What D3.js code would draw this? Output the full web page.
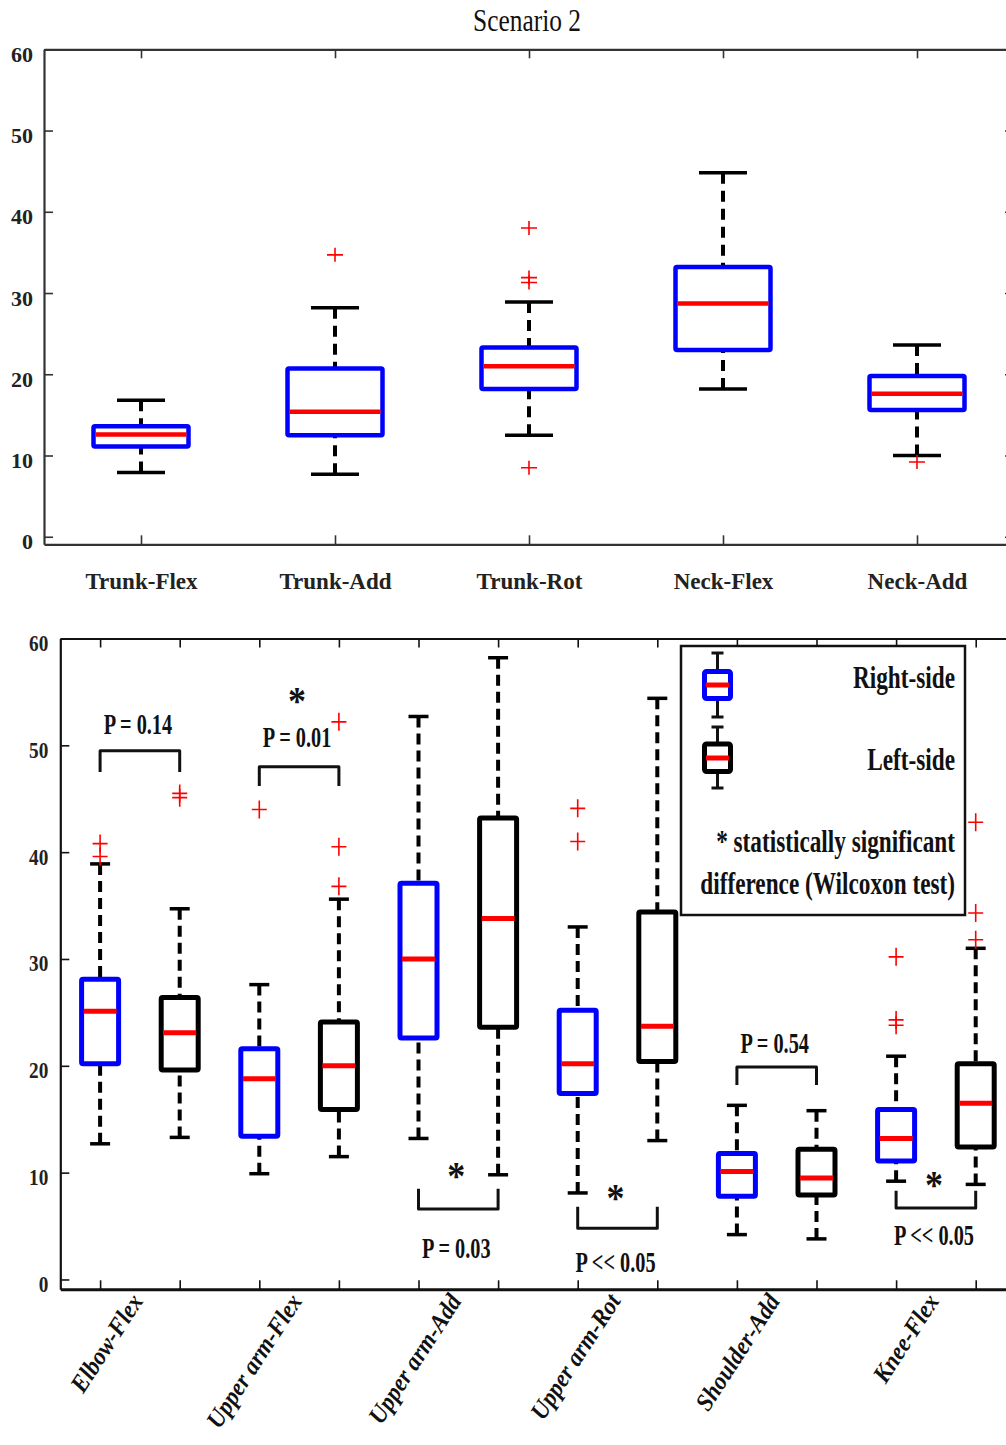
<!DOCTYPE html>
<html>
<head>
<meta charset="utf-8">
<script src="https://cdn.jsdelivr.net/npm/d3@7"></script>
<style>
body{margin:0;background:#fff}
svg{display:block}
</style>
</head>
<body>
<svg id="chart"></svg>
<script>
// values (degrees)

// top panel: trunk and neck
var topCats = ["Trunk-Flex","Trunk-Add","Trunk-Rot","Neck-Flex","Neck-Add"];
var topLow  = [7.9, 7.7, 12.5, 18.2, 10.0];
var topQ1   = [11.1, 12.5, 18.2, 23.0, 15.6];
var topMed  = [12.6, 15.4, 21.0, 28.7, 17.6];
var topQ3   = [13.6, 20.7, 23.3, 33.2, 19.8];
var topHigh = [16.8, 28.2, 28.9, 44.8, 23.6];
var topOut  = [[], [34.7], [38.0, 31.9, 31.3, 8.5], [], [9.2]];

// bottom panel: right-side (blue) and left-side (black)
var botCats = ["Elbow-Flex","Upper arm-Flex","Upper arm-Add","Upper arm-Rot","Shoulder-Add","Knee-Flex"];
var rLow  = [12.7, 9.9, 13.2, 8.1, 4.2, 9.2];
var rQ1   = [20.2, 13.4, 22.6, 17.4, 7.8, 11.1];
var rMed  = [25.1, 18.8, 30.0, 20.2, 10.1, 13.2];
var rQ3   = [28.1, 21.6, 37.1, 25.2, 11.8, 15.9];
var rHigh = [38.9, 27.6, 52.7, 33.0, 16.3, 20.9];
var rOut  = [[40.8, 39.6], [44.0], [], [44.1, 41.0], [], [30.2, 24.3, 23.8]];

var lLow  = [13.3, 11.5, 9.8, 13.0, 3.8, 8.9];
var lQ1   = [19.6, 15.9, 23.6, 20.4, 7.9, 12.4];
var lMed  = [23.1, 20.0, 33.8, 23.7, 9.5, 16.5];
var lQ3   = [26.4, 24.1, 43.2, 34.4, 12.2, 20.2];
var lHigh = [34.7, 35.6, 58.2, 54.4, 15.8, 31.0];
var lOut  = [[45.5, 45.1], [52.2, 40.5, 36.8], [], [], [], [42.8, 34.3, 31.8]];

// Wilcoxon test annotations (bracket levels in degrees)
var pLabels  = ["P = 0.14","P = 0.01","P = 0.03","P << 0.05","P = 0.54","P << 0.05"];
var pSig     = [false, true, true, true, false, true];
var pBarY    = [49.5, 48.0, 6.6, 4.8, 19.9, 6.7];
var pLegY    = [47.5, 46.2, 8.5, 6.8, 18.2, 8.3];
var pTextY   = [51.1, 49.85, 2.0, 0.74, 21.2, 3.24];
var pStarY   = [0, 54.7, 10.25, 8.2, 0, 9.4];

var yTicks = [0,10,20,30,40,50,60];

var W = 1006, H = 1445;
var serif = "'Liberation Serif','Times New Roman',serif";

var svg = d3.select("#chart").attr("width",W).attr("height",H);

//condensed text, the figure was stretched vertically
var condText = function(g,x,y,str,size,sx,anchor,weight,style)
{
    return g.append("text")
        .attr("transform","translate("+x+","+y+") scale("+sx+",1)")
        .attr("text-anchor",anchor||"middle")
        .style("font-family",serif)
        .style("font-size",size+"px")
        .style("font-weight",weight||"bold")
        .style("font-style",style||"normal")
        .attr("fill","#111")
        .text(str);
}

var plus = function(g,x,y,hw,hh)
{
    g.append("path")
        .attr("d","M"+(x-hw)+","+y+"H"+(x+hw)+"M"+x+","+(y-hh)+"V"+(y+hh))
        .attr("stroke","#ff0000")
        .attr("stroke-width",1.6)
        .attr("fill","none");
}

//one box: whiskers, caps, box, median, outliers
var drawBox = function(g,x,yScale,s,o)
{
    [[s.high,s.q3],[s.low,s.q1]].forEach(function(w)
    {
        g.append("line")
            .attr("x1",x).attr("x2",x)
            .attr("y1",yScale(w[0])).attr("y2",yScale(w[1]))
            .attr("stroke","#000")
            .attr("stroke-width",o.wsw)
            .attr("stroke-dasharray",o.dash);
        g.append("line")
            .attr("x1",x-o.cap).attr("x2",x+o.cap)
            .attr("y1",yScale(w[0])).attr("y2",yScale(w[0]))
            .attr("stroke","#000")
            .attr("stroke-width",o.csw);
    });
    g.append("rect")
        .attr("x",x-o.half)
        .attr("y",yScale(s.q3))
        .attr("width",o.half*2)
        .attr("height",yScale(s.q1)-yScale(s.q3))
        .attr("rx",1.5)
        .attr("fill","#fff")
        .attr("stroke",o.color)
        .attr("stroke-width",o.bsw);
    g.append("line")
        .attr("x1",x-o.half+2).attr("x2",x+o.half-2)
        .attr("y1",yScale(s.med)).attr("y2",yScale(s.med))
        .attr("stroke","#ff0000")
        .attr("stroke-width",o.bsw);
    s.out.forEach(function(v)
    {
        plus(g,x,yScale(v),o.phw,o.phh);
    });
}

var styleAxis = function(sel,color)
{
    sel.select(".domain").attr("stroke",color).attr("stroke-width",2.2);
    sel.selectAll(".tick line").attr("stroke",color).attr("stroke-width",1.6);
}

// ---------- top panel ----------
var topX = d3.scaleLinear().domain([0.5,5.5]).range([44,1014]);
var topY = d3.scaleLinear().domain([-0.93,60]).range([544.3,49.3]);
var gTop = svg.append("g");

condText(gTop,527,31,"Scenario 2",31,0.82,"middle","normal");

var ta = gTop.append("g").attr("transform","translate(44,0)")
    .call(d3.axisLeft(topY).tickValues(yTicks).tickSize(-9).tickSizeOuter(0));
styleAxis(ta,"#333");
ta.selectAll(".tick text").attr("x",null).attr("dy",null)
    .attr("transform","translate(-11,12)")
    .attr("text-anchor","end")
    .style("font-family",serif).style("font-size","22px").style("font-weight","bold")
    .attr("fill","#222");
styleAxis(gTop.append("g").attr("transform","translate(1014,0)")
    .call(d3.axisRight(topY).tickValues(yTicks).tickSize(-9).tickSizeOuter(0).tickFormat("")),"#333");
var tb = gTop.append("g").attr("transform","translate(0,544.3)")
    .call(d3.axisBottom(topX).tickValues([1,2,3,4,5]).tickSize(-9).tickSizeOuter(0)
        .tickFormat(function(d){return topCats[d-1];}));
styleAxis(tb,"#333");
tb.selectAll(".tick text").attr("y",null).attr("dy",null)
    .attr("transform","translate(0,45) scale(0.96,1)")
    .style("font-family",serif).style("font-size","24px").style("font-weight","bold")
    .attr("fill","#222");
styleAxis(gTop.append("g").attr("transform","translate(0,49.3)")
    .call(d3.axisTop(topX).tickValues([1,2,3,4,5]).tickSize(-9).tickSizeOuter(0).tickFormat("")),"#333");

topCats.forEach(function(c,i)
{
    drawBox(gTop,topX(i+1),topY,
        {low:topLow[i],q1:topQ1[i],med:topMed[i],q3:topQ3[i],high:topHigh[i],out:topOut[i]},
        {color:"#0000ff",half:47.5,cap:24,bsw:4.5,wsw:4,csw:3.5,dash:"11,7",phw:8,phh:7});
});

// ---------- bottom panel ----------
var botX = d3.scaleLinear().domain([0.5,12.5]).range([60.3,1015.5]);
var botY = d3.scaleLinear().domain([-0.92,60]).range([1289.3,638.5]);
var gBot = svg.append("g");
var pos12 = d3.range(1,13);

var la = gBot.append("g").attr("transform","translate(60.3,0)")
    .call(d3.axisLeft(botY).tickValues(yTicks).tickSize(-9).tickSizeOuter(0));
styleAxis(la,"#111");
la.selectAll(".tick text").attr("x",null).attr("dy",null)
    .attr("transform","translate(-12,12) scale(0.8,1)")
    .attr("text-anchor","end")
    .style("font-family",serif).style("font-size","24px").style("font-weight","bold")
    .attr("fill","#222");
styleAxis(gBot.append("g").attr("transform","translate(1015.5,0)")
    .call(d3.axisRight(botY).tickValues(yTicks).tickSize(-9).tickSizeOuter(0).tickFormat("")),"#111");
var bb = gBot.append("g").attr("transform","translate(0,1289.3)")
    .call(d3.axisBottom(botX).tickValues(pos12).tickSize(-9).tickSizeOuter(0).tickFormat(""));
styleAxis(bb,"#111");
bb.select(".domain").attr("stroke-width",3);
styleAxis(gBot.append("g").attr("transform","translate(0,638.5)")
    .call(d3.axisTop(botX).tickValues(pos12).tickSize(-9).tickSizeOuter(0).tickFormat("")),"#111");

botCats.forEach(function(c,i)
{
    var opt = {half:18.5,cap:10,bsw:5,wsw:4,csw:3.5,dash:"11,6",phw:7.5,phh:9};
    drawBox(gBot,botX(2*i+1),botY,
        {low:rLow[i],q1:rQ1[i],med:rMed[i],q3:rQ3[i],high:rHigh[i],out:rOut[i]},
        Object.assign({color:"#0000ff"},opt));
    drawBox(gBot,botX(2*i+2),botY,
        {low:lLow[i],q1:lQ1[i],med:lMed[i],q3:lQ3[i],high:lHigh[i],out:lOut[i]},
        Object.assign({color:"#000"},opt));

    //category label, rotated
    var cx = (botX(2*i+1)+botX(2*i+2))/2;
    gBot.append("text")
        .attr("transform","translate("+(cx+4)+",1301) rotate(-57) scale(0.92,1)")
        .attr("text-anchor","end")
        .style("font-family",serif).style("font-size","25px")
        .style("font-weight","bold").style("font-style","italic")
        .attr("fill","#111")
        .text(c);
});

// significance brackets
pLabels.forEach(function(p,i)
{
    var x1 = botX(2*i+1), x2 = botX(2*i+2), cx = (x1+x2)/2;
    var yb = botY(pBarY[i]), yl = botY(pLegY[i]);
    gBot.append("path")
        .attr("d","M"+x1+","+yl+"V"+yb+"H"+x2+"V"+yl)
        .attr("fill","none")
        .attr("stroke","#111")
        .attr("stroke-width",3)
        .attr("stroke-linejoin","round");
    condText(gBot,cx-2,botY(pTextY[i]),p,29,0.7);
    if(pSig[i])
    {
        condText(gBot,cx-2,botY(pStarY[i])+19,"*",40,0.9);
    }
});

// legend
var lg = gBot.append("g");
lg.append("rect")
    .attr("x",681).attr("y",646).attr("width",284).attr("height",269)
    .attr("fill","#fff").attr("stroke","#111").attr("stroke-width",2.5);
[{c:"#0000ff",top:671.5,bot:698.5,med:685,c1:653,c2:717},
 {c:"#000",top:744,bot:771.5,med:758,c1:727,c2:788}].forEach(function(k)
{
    lg.append("path")
        .attr("d","M717.5,"+k.c1+"V"+k.top+"M717.5,"+k.bot+"V"+k.c2+
            "M711.5,"+k.c1+"H723.5M711.5,"+k.c2+"H723.5")
        .attr("stroke","#111").attr("stroke-width",3).attr("fill","none");
    lg.append("rect")
        .attr("x",704.5).attr("y",k.top).attr("width",26).attr("height",k.bot-k.top)
        .attr("rx",2).attr("fill","#fff").attr("stroke",k.c).attr("stroke-width",5);
    lg.append("line")
        .attr("x1",706).attr("x2",729).attr("y1",k.med).attr("y2",k.med)
        .attr("stroke","#ff0000").attr("stroke-width",5);
});
condText(lg,955,688,"Right-side",31,0.75,"end");
condText(lg,955,770,"Left-side",31,0.75,"end");
condText(lg,955,852,"* statistically significant",31,0.75,"end");
condText(lg,955,894,"difference (Wilcoxon test)",31,0.75,"end");
</script>
</body>
</html>
